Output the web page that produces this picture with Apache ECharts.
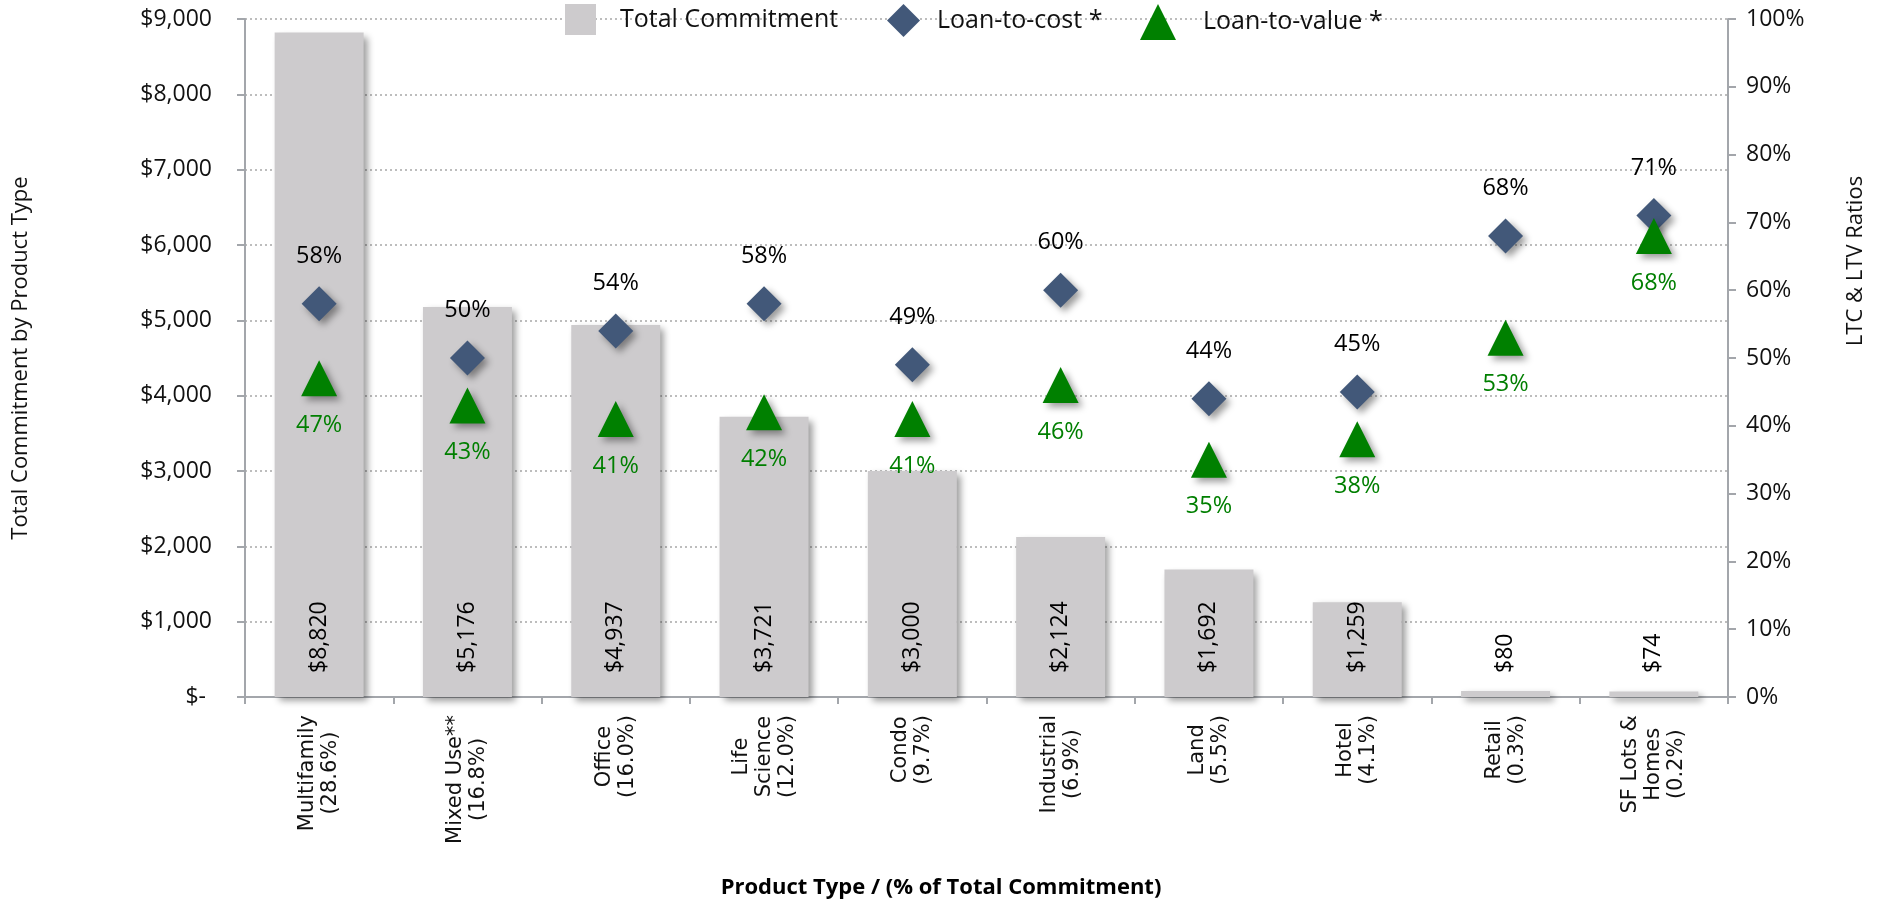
<!DOCTYPE html>
<html>
<head>
<meta charset="utf-8">
<script src="https://cdn.jsdelivr.net/npm/echarts@6/dist/echarts.min.js"></script>
<style>
  html, body { margin: 0; padding: 0; background: #ffffff; }
  #chart { width: 1902px; height: 900px; }
</style>
</head>
<body>
<div id="chart"></div>
<script>
// Product types with their share of total commitment
const categories = [
  'Multifamily\n(28.6%)',
  'Mixed Use**\n(16.8%)',
  'Office\n(16.0%)',
  'Life\nScience\n(12.0%)',
  'Condo\n(9.7%)',
  'Industrial\n(6.9%)',
  'Land\n(5.5%)',
  'Hotel\n(4.1%)',
  'Retail\n(0.3%)',
  'SF Lots &\nHomes\n(0.2%)'
];
// Total commitment ($ millions)
const totalCommitment = [8820, 5176, 4937, 3721, 3000, 2124, 1692, 1259, 80, 74];
// Loan-to-cost ratio (%)
const loanToCost = [58, 50, 54, 58, 49, 60, 44, 45, 68, 71];
// Loan-to-value ratio (%)
const loanToValue = [47, 43, 41, 42, 41, 46, 35, 38, 53, 68];

const seriesNames = ['Total Commitment', 'Loan-to-cost *', 'Loan-to-value *'];

const numFont = 'Open Sans';
const axisGray = '#A3A6AB';
const shadow = { shadowColor: 'rgba(0,0,0,0.4)', shadowBlur: 7, shadowOffsetX: 4, shadowOffsetY: 4 };
const legendText = { fontFamily: 'Open Sans', fontSize: 25, color: '#111111' };

// one legend block per series so each entry sits at its own spot
function legendEntry(name, icon, left, size, gap) {
  return {
    left: left,
    top: 4,
    padding: 0,
    itemWidth: size,
    itemHeight: size,
    textStyle: Object.assign({ padding: [0, 0, 0, gap] }, legendText),
    data: [{ name: name, icon: icon }]
  };
}

const chart = echarts.init(document.getElementById('chart'));
chart.setOption({
  animation: false,
  backgroundColor: '#ffffff',
  grid: { left: 245, right: 174, top: 19, bottom: 203, containLabel: false },
  legend: [
    legendEntry(seriesNames[0], 'rect', 565, 31, 19),
    legendEntry(seriesNames[1], 'diamond', 887, 33, 12),
    legendEntry(seriesNames[2], 'triangle', 1140, 36, 22)
  ],
  xAxis: {
    type: 'category',
    data: categories,
    axisLine: { lineStyle: { color: axisGray, width: 2 } },
    axisTick: { show: true, length: 7, lineStyle: { color: axisGray, width: 2 } },
    axisLabel: {
      interval: 0,
      rotate: 90,
      margin: 18,
      formatter: function (v) {
        return v.split('\n').map(function (s) { return '{c|' + s + '}'; }).join('\n');
      },
      rich: {
        c: { align: 'center', fontFamily: 'DejaVu Sans', fontSize: 21, lineHeight: 23, color: '#111111' }
      }
    }
  },
  yAxis: [
    {
      type: 'value',
      min: 0,
      max: 9000,
      interval: 1000,
      name: 'Total Commitment by Product Type',
      nameLocation: 'middle',
      nameGap: 213,
      nameTextStyle: { fontFamily: 'Open Sans', fontSize: 22, color: '#111111' },
      axisLine: { show: true, lineStyle: { color: axisGray, width: 2 } },
      axisTick: { show: true, length: 8, lineStyle: { color: axisGray, width: 2 } },
      axisLabel: {
        margin: 33,
        fontFamily: numFont,
        fontSize: 23,
        color: '#111111',
        formatter: function (v) { return v === 0 ? '$- ' : '$' + v.toLocaleString('en-US'); }
      },
      splitLine: { show: true, lineStyle: { color: '#BDBDBD', type: [2, 3], width: 2 } }
    },
    {
      type: 'value',
      min: 0,
      max: 100,
      interval: 10,
      position: 'right',
      axisLine: { show: true, lineStyle: { color: axisGray, width: 2 } },
      axisTick: { show: true, length: 8, lineStyle: { color: axisGray, width: 2 } },
      axisLabel: {
        margin: 18,
        fontFamily: numFont,
        fontSize: 23,
        color: '#111111',
        formatter: function (v) { return v + '%'; }
      },
      splitLine: { show: false }
    }
  ],
  graphic: [
    {
      type: 'text',
      x: 1856,
      y: 261,
      rotation: Math.PI / 2,
      style: {
        text: 'LTC & LTV Ratios',
        fontFamily: 'Open Sans',
        fontSize: 22,
        fill: '#111111',
        align: 'center',
        verticalAlign: 'middle'
      }
    },
    {
      type: 'text',
      x: 941,
      y: 888,
      style: {
        text: 'Product Type / (% of Total Commitment)',
        fontFamily: 'Open Sans',
        fontWeight: 'bold',
        fontSize: 22,
        fill: '#000000',
        align: 'center',
        verticalAlign: 'middle'
      }
    }
  ],
  series: [
    {
      name: seriesNames[0],
      type: 'bar',
      data: totalCommitment,
      barWidth: '60%',
      itemStyle: Object.assign({ color: '#CDCBCD' }, shadow),
      label: {
        show: true,
        position: 'insideBottom',
        rotate: 90,
        align: 'left',
        verticalAlign: 'middle',
        distance: 24,
        fontFamily: numFont,
        fontSize: 23,
        color: '#000000',
        formatter: function (p) { return '$' + p.value.toLocaleString('en-US'); }
      }
    },
    {
      name: seriesNames[1],
      type: 'scatter',
      yAxisIndex: 1,
      data: loanToCost,
      symbol: 'diamond',
      symbolSize: 35,
      itemStyle: Object.assign({ color: '#425879', opacity: 1 }, shadow),
      label: {
        show: true,
        position: 'top',
        distance: 18,
        fontFamily: numFont,
        fontSize: 23.5,
        color: '#000000',
        formatter: function (p) { return p.value + '%'; }
      }
    },
    {
      name: seriesNames[2],
      type: 'scatter',
      yAxisIndex: 1,
      data: loanToValue,
      symbol: 'triangle',
      symbolSize: 36,
      itemStyle: Object.assign({ color: '#008000', opacity: 1 }, shadow),
      label: {
        show: true,
        position: 'bottom',
        distance: 17,
        fontFamily: numFont,
        fontSize: 23.5,
        color: '#007F00',
        formatter: function (p) { return p.value + '%'; }
      }
    }
  ]
});
</script>
</body>
</html>
